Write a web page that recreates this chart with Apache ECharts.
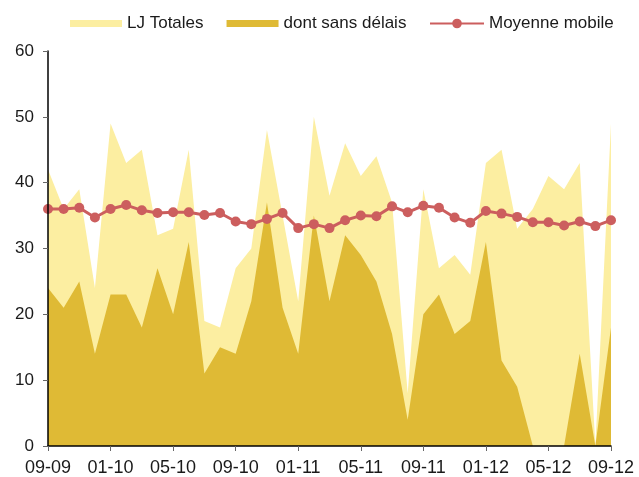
<!DOCTYPE html>
<html lang="fr">
<head>
<meta charset="UTF-8">
<title>LJ Totales</title>
<style>
  html, body { margin: 0; padding: 0; background: #fff; }
  #chart { width: 639px; height: 477px; }
</style>
</head>
<body>
<div id="chart"></div>
<script src="https://cdn.jsdelivr.net/npm/echarts@6/dist/echarts.min.js"></script>
<script>
// mois (MM-AA)
const months = ['09-09','10-09','11-09','12-09','01-10','02-10','03-10','04-10','05-10','06-10','07-10','08-10',
  '09-10','10-10','11-10','12-10','01-11','02-11','03-11','04-11','05-11','06-11','07-11','08-11',
  '09-11','10-11','11-11','12-11','01-12','02-12','03-12','04-12','05-12','06-12','07-12','08-12','09-12'];

const totales = [42,36,39,24,49,43,45,32,33,45,19,18,27,30,48,35,22,50,38,46,41,44,37,8,
  39,27,29,26,43,45,33,36,41,39,43,0,49];

const sansDelais = [24,21,25,14,23,23,18,27,20,31,11,15,14,22,37,21,14,35,22,32,29,25,17,4,
  20,23,17,19,31,13,9,0,0,0,14,0,18];

const moyenne = [36.0,36.0,36.2,34.7,36.0,36.6,35.8,35.4,35.5,35.5,35.1,35.4,34.1,33.7,34.5,35.4,
  33.1,33.7,33.1,34.3,35.0,34.9,36.4,35.5,36.5,36.2,34.7,33.9,35.7,35.3,34.8,34.0,34.0,33.5,34.1,33.4,34.3];

const font = '"Liberation Sans", Arial, sans-serif';
const textColor = '#1a1a1a';

const chart = echarts.init(document.getElementById('chart'));

const option = {
  animation: false,
  backgroundColor: '#fff',
  textStyle: { fontFamily: font },
  legend: [{
    left: 70,
    top: 15,
    padding: 0,
    itemWidth: 52,
    itemHeight: 7,
    itemGap: 23,
    textStyle: { fontSize: 17, color: textColor, fontFamily: font },
    data: [
      { name: 'LJ Totales', icon: 'rect' },
      { name: 'dont sans délais', icon: 'rect' }
    ]
  }, {
    left: 429,
    top: 15,
    padding: 0,
    itemWidth: 54,
    itemHeight: 12,
    textStyle: { fontSize: 17, color: textColor, fontFamily: font },
    data: ['Moyenne mobile']
  }],
  grid: { left: 48, right: 28, top: 51, bottom: 31, containLabel: false },
  xAxis: {
    type: 'category',
    boundaryGap: false,
    data: months,
    z: 10,
    axisLine: { lineStyle: { color: '#000', width: 1.5 } },
    axisTick: { interval: 3, length: 5, lineStyle: { color: '#666' } },
    axisLabel: { interval: 3, fontSize: 18, color: textColor, margin: 13, fontFamily: font },
    splitLine: { show: false }
  },
  yAxis: {
    type: 'value',
    min: 0,
    max: 60,
    interval: 10,
    z: 10,
    axisLine: { show: true, lineStyle: { color: '#000', width: 1.5 } },
    axisTick: { show: true, length: 5, lineStyle: { color: '#666' } },
    axisLabel: { fontSize: 17, color: textColor, margin: 14, fontFamily: font },
    splitLine: { show: false }
  },
  series: [{
    name: 'LJ Totales',
    type: 'line',
    data: totales,
    symbol: 'none',
    lineStyle: { width: 0 },
    itemStyle: { color: '#fceea1' },
    areaStyle: { color: '#fceea1', opacity: 1 },
    z: 1
  }, {
    name: 'dont sans délais',
    type: 'line',
    data: sansDelais,
    symbol: 'none',
    lineStyle: { width: 0 },
    itemStyle: { color: '#dfba35' },
    areaStyle: { color: '#dfba35', opacity: 1 },
    z: 2
  }, {
    name: 'Moyenne mobile',
    type: 'line',
    data: moyenne,
    symbol: 'circle',
    symbolSize: 10,
    lineStyle: { width: 3, color: '#cc5e5e' },
    itemStyle: { color: '#cc5e5e' },
    z: 3
  }]
};

chart.setOption(option);
</script>
</body>
</html>
